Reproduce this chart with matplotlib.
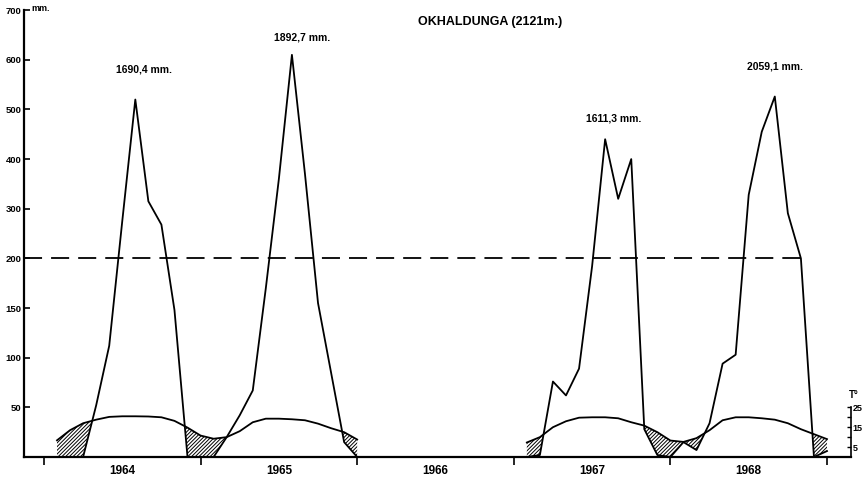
import numpy as np
import matplotlib
matplotlib.use("Agg")
import matplotlib.pyplot as plt

plt.rcParams['font.family'] = ['Liberation Sans Narrow', 'Liberation Sans', 'DejaVu Sans']
plt.rcParams['font.weight'] = 'bold'
plt.rcParams['hatch.linewidth'] = 0.7

# monthly rainfall (mm), Jan..Dec
prec_1964 = [0, 0, 0, 52, 112, 275, 520, 315, 268, 148, 0, 0]
prec_1965 = [0, 20, 42, 67, 170, 360, 610, 370, 155, 85, 15, 0]
prec_1967 = [0, 2, 76, 62, 89, 192, 440, 320, 400, 28, 2, 0]
prec_1968 = [15, 7, 34, 94, 103, 328, 455, 526, 291, 200, 0, 6]

# monthly mean temperature (deg C)
temp_1964 = [8.4, 13.5, 17.0, 18.8, 20.2, 20.5, 20.5, 20.4, 20.0, 18.2, 14.8, 10.8]
temp_1965 = [9.2, 10.0, 13.0, 17.5, 19.3, 19.3, 19.0, 18.5, 16.8, 14.5, 12.5, 8.8]
temp_1967 = [7.3, 10.0, 15.0, 18.0, 19.8, 20.0, 20.0, 19.5, 17.5, 15.8, 12.5, 8.3]
temp_1968 = [7.6, 9.5, 13.5, 18.5, 20.0, 20.0, 19.5, 18.8, 17.0, 14.0, 11.5, 9.0]

years = [1964, 1965, 1966, 1967, 1968]
total_years = [1964, 1965, 1967, 1968]
annual_totals = [1690.4, 1892.7, 1611.3, 2059.1]

prec = {1964: prec_1964, 1965: prec_1965, 1967: prec_1967, 1968: prec_1968}
temp = {1964: temp_1964, 1965: temp_1965, 1967: temp_1967, 1968: temp_1968}


# rainfall axis: linear up to 200 mm, half scale above
def fwd(v):
    v = np.asarray(v, dtype=float)
    return np.where(v <= 200, v, 200 + (v - 200) / 2)


def inv(u):
    u = np.asarray(u, dtype=float)
    return np.where(u <= 200, u, 200 + (u - 200) * 2)


def month_pos(year):
    return np.arange(12) + 12 * (year - years[0])


fig = plt.figure(figsize=(8.66, 4.8), dpi=100)
ax = fig.add_axes([0.0277, 0.0479, 0.955, 0.931])
ax.set_yscale('function', functions=(fwd, inv))

# two continuous stretches, 1966 is missing
for pair in [(1964, 1965), (1967, 1968)]:
    m = np.concatenate([month_pos(y) for y in pair])
    p = np.concatenate([prec[y] for y in pair]).astype(float)
    t = 2 * np.concatenate([temp[y] for y in pair]).astype(float)   # 10 C = 20 mm
    ax.fill_between(m, p, t, where=p < t, interpolate=True, facecolor='none',
                    edgecolor='black', hatch='/////////', linewidth=0)
    ax.plot(m, p, color='black', lw=1.3)
    ax.plot(m, t, color='black', lw=1.3)

ax.axhline(200, xmin=0, xmax=0.946, color='black', lw=1.3, ls=(0, (10, 5)))

# annual totals above each peak
offsets = [(6, 18), (7, 9), (6, 11), (0, 18)]
for yr, tot, off in zip(total_years, annual_totals, offsets):
    pv = prec[yr]
    k = int(np.argmax(pv))
    lab = f"{tot:.1f}".replace('.', ',') + " mm."
    ax.annotate(lab, xy=(month_pos(yr)[k], pv[k]), xytext=off,
                textcoords='offset points', ha='center', va='bottom', fontsize=7.5)

ax.set_xlim(-2.53, 60.84)
ax.set_ylim(0, 700)

ax.set_yticks([50, 100, 150, 200, 300, 400, 500, 600, 700])
ax.set_yticklabels(['50', '100', '150', '200', '300', '400', '500', '600', '700'])
ax.yaxis.set_minor_locator(matplotlib.ticker.NullLocator())
ax.tick_params(axis='y', direction='in', length=4, width=1.2, labelsize=6.8, pad=2)

ax.set_xticks([-1, 11, 23, 35, 47, 59])
ax.set_xticklabels([])
ax.set_xticks([5 + 12 * i for i in range(len(years))], minor=True)
ax.set_xticklabels([str(y) for y in years], minor=True)
ax.tick_params(axis='x', which='major', direction='out', length=6, width=1.2)
ax.tick_params(axis='x', which='minor', length=0, labelsize=8.5, pad=6)

for s in ['top', 'right']:
    ax.spines[s].set_visible(False)
for s in ['left', 'bottom']:
    ax.spines[s].set_linewidth(1.6)

ax.annotate('mm.', xy=(0, 1), xycoords='axes fraction', xytext=(5, 1),
            textcoords='offset points', va='center', fontsize=6.5)

# temperature scale on the right, 0..25 C over 0..50 mm
tax = ax.inset_axes([1.0, 0, 0.0001, 50], transform=ax.get_yaxis_transform())
tax.set_ylim(0, 25)
tax.set_xticks([])
tax.patch.set_visible(False)
for s in ['top', 'bottom', 'left']:
    tax.spines[s].set_visible(False)
tax.spines['right'].set_linewidth(1.2)
tax.yaxis.tick_right()
tax.set_yticks([5, 10, 15, 20, 25])
tax.set_yticklabels(['5', '', '15', '', '25'])
tax.tick_params(axis='y', direction='in', length=3, width=1, labelsize=6.5, pad=1)
tax.annotate('T°', xy=(1, 1), xycoords='axes fraction', xytext=(2, 5),
             textcoords='offset points', ha='center', va='bottom', fontsize=7)

fig.text(490 / 866, 1 - 22 / 480, 'OKHALDUNGA (2121m.)', ha='center', va='center',
         fontsize=9)

fig.savefig('out.png', dpi=100)
